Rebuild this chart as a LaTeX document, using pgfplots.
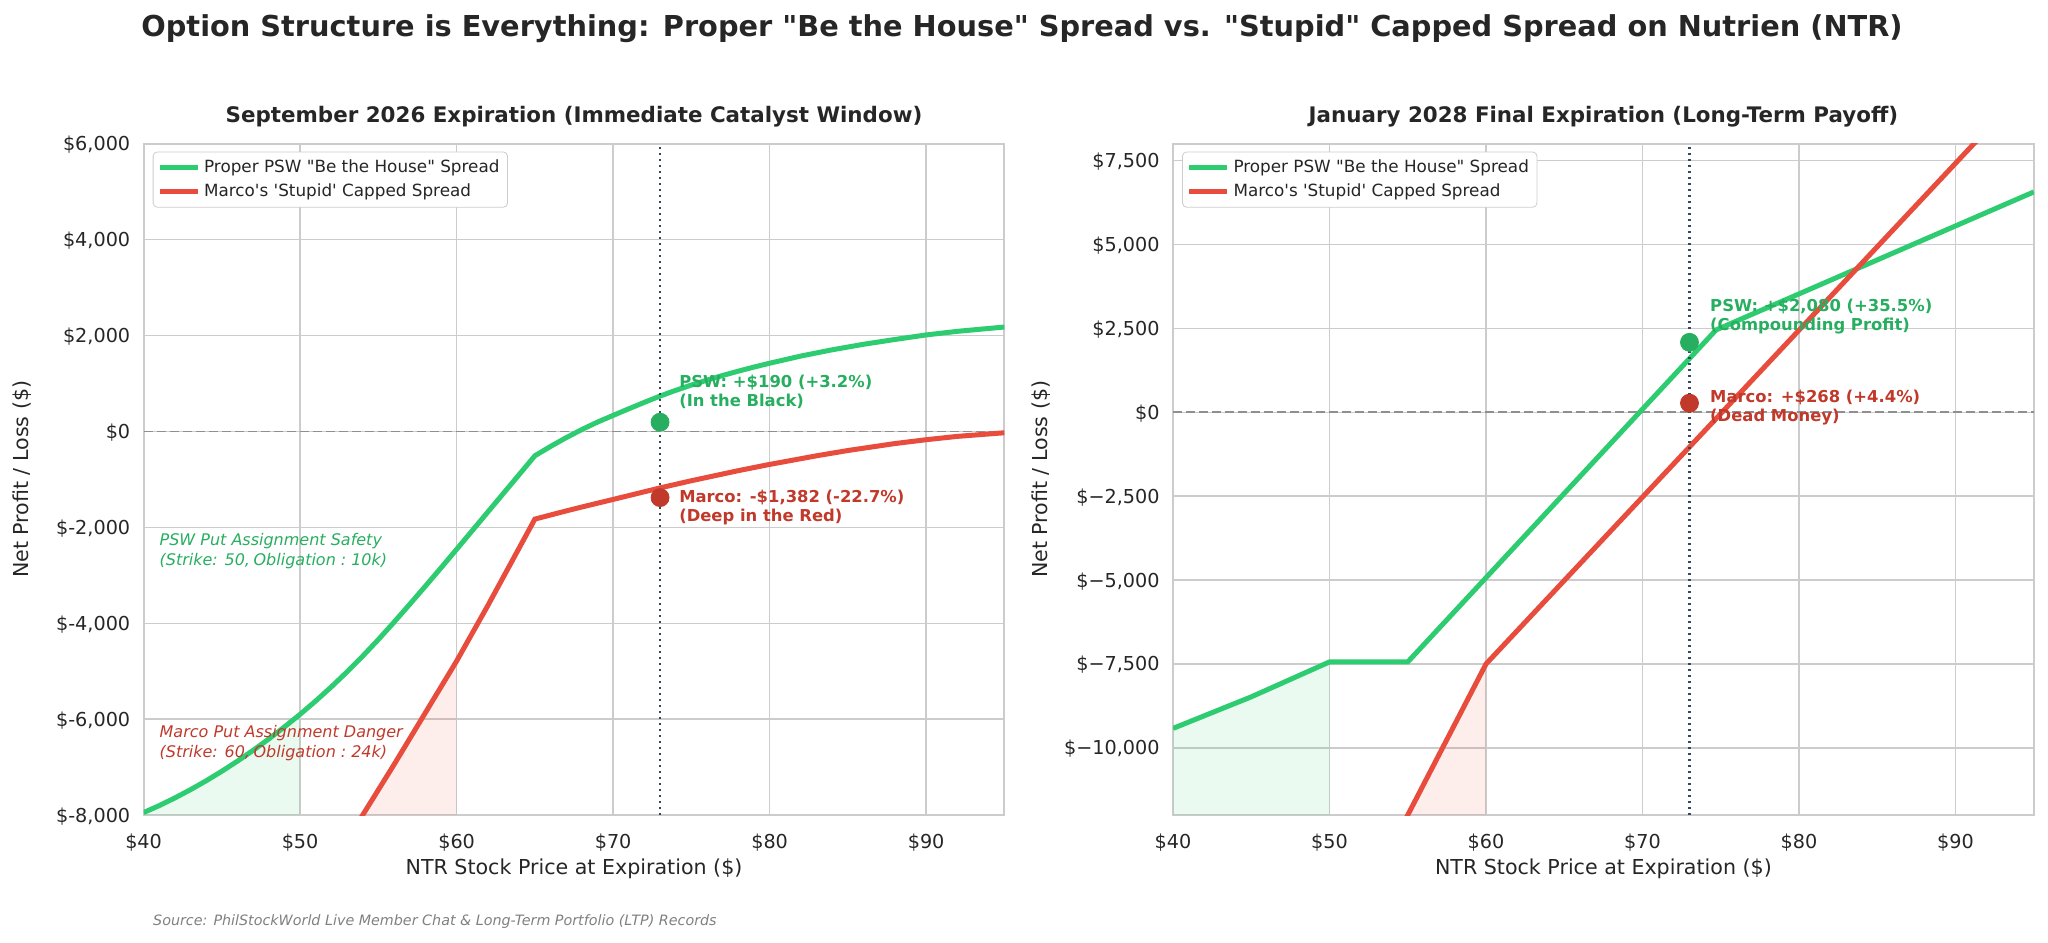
\documentclass[border=0pt]{standalone}
\usepackage{fontspec}
\setmainfont{DejaVu Sans}
\newfontfamily\djs{DejaVu Sans}
\usepackage{pgfplots}
\pgfplotsset{compat=1.18}
\definecolor{pswgreen}{HTML}{2ECC71}
\definecolor{marcored}{HTML}{E74C3C}
\definecolor{pswdark}{HTML}{27AE60}
\definecolor{marcodark}{HTML}{C0392B}
\definecolor{gridc}{HTML}{CCCCCC}
\definecolor{txt}{HTML}{262626}
\definecolor{vline}{HTML}{34495E}
\definecolor{zline}{HTML}{8F8F8F}
\definecolor{srcgray}{HTML}{808080}
\pgfplotsset{myax/.style={
 scale only axis, width=430.4pt, height=335.7pt,
 anchor=south west,
 xmin=40, xmax=95, enlargelimits=false,
 scaled y ticks=false, scaled x ticks=false,
 xtick={40,50,60,70,80,90}, xticklabels={\$40,\$50,\$60,\$70,\$80,\$90},
 grid=major, major grid style={gridc, line width=0.65pt},
 axis line style={gridc, line width=1pt},
 major tick length=0pt,
 tick label style={font=\fontsize{9.6pt}{11.5pt}\selectfont, text=txt, inner sep=0pt},
 xticklabel style={anchor=base, yshift=-16.5pt},
 yticklabel style={anchor=base east, xshift=-6.5pt, yshift=-3.5pt},
 label style={font=\fontsize{10.3pt}{12pt}\selectfont, text=txt},
 xlabel={NTR Stock Price at Expiration (\$)},
 ylabel={Net Profit / Loss (\$)},
 xlabel style={at={(axis description cs:0.5,0)}, anchor=base, yshift=-29.8pt},
 title style={at={(axis description cs:0.5,1)}, anchor=base, yshift=4.6pt, font=\bfseries\fontsize{10.7pt}{12.8pt}\selectfont, text=txt},
 legend style={at={(0.0106,0.988)}, anchor=north west, draw=gridc, rounded corners=2pt, fill=white, font=\fontsize{8.4pt}{10pt}\selectfont, text=txt, row sep=0pt, inner xsep=2pt, inner ysep=1.5pt, nodes={inner ysep=2.2pt}},
 legend cell align=left,
 legend image code/.code={\draw[#1] (0pt,0pt) -- (19pt,0pt);},
}}
\begin{document}
\djs
\begin{tikzpicture}
\path[use as bounding box] (0,0) rectangle (1024pt,471pt);
% ---------------- Left axis ----------------
\begin{axis}[myax, at={(71.8pt,63.5pt)},
 ymin=-8000, ymax=6000,
 ytick={-8000,-6000,-4000,-2000,0,2000,4000,6000},
 yticklabels={{\$-8,000},{\$-6,000},{\$-4,000},{\$-2,000},{\$0},{\$2,000},{\$4,000},{\$6,000}},
 ylabel style={at={(axis description cs:-0.1412,0.5)}, anchor=center},
 title={September 2026 Expiration (Immediate Catalyst Window)}]
\addplot[forget plot, fill=pswgreen, fill opacity=0.1, draw=none] coordinates {
 (40,-8000) (40,-7950) (41,-7803.5) (42,-7644) (43,-7471.5) (44,-7286) (45,-7087.5)
 (46,-6876) (47,-6651.5) (48,-6414) (49,-6163.5) (50,-5900) (50,-8000)};
\addplot[forget plot, fill=marcored, fill opacity=0.1, draw=none] coordinates {
 (54,-8000) (56,-6950) (58,-5870) (60,-4790) (60,-8000)};
\addplot[forget plot, zline, line width=0.75pt, dash pattern=on 4.5pt off 2pt] coordinates {(40,0) (95,0)};
\addplot[pswgreen, line width=2.5pt] coordinates {
 (40,-7950) (41,-7803.5) (42,-7644) (43,-7471.5) (44,-7286) (45,-7087.5)
 (46,-6876) (47,-6651.5) (48,-6414) (49,-6163.5) (50,-5900)
 (51,-5621.7) (52,-5326.7) (53,-5015) (54,-4686.7) (55,-4341.7) (56,-3980)
 (57,-3607.5) (58,-3230) (59,-2847.5) (60,-2460)
 (61,-2070) (62,-1680) (63,-1290) (64,-900) (65,-510)
 (66,-315) (67,-132) (68,37) (69,192) (70,332) (71,470) (72,605) (73,735) (74,855)
 (75,965) (76,1068) (77,1165) (78,1255) (79,1340) (80,1420) (82,1570) (84,1700)
 (86,1815) (88,1915) (90,2010) (92,2085) (95,2175)};
\addlegendentry{Proper PSW "Be the House" Spread}
\addplot[marcored, line width=2.5pt] coordinates {
 (52,-9040) (54,-8000) (56,-6950) (58,-5870) (60,-4790) (62,-3630) (65,-1830)
 (66,-1745) (67,-1660) (68,-1578) (70,-1420) (73,-1180) (75,-1030) (78,-820)
 (80,-690) (83,-510) (85,-400) (88,-255) (90,-175) (92,-105) (95,-30)};
\addlegendentry{Marco's 'Stupid' Capped Spread}
\addplot[forget plot, vline, line width=1.1pt, dash pattern=on 1.1pt off 1.9pt] coordinates {(73,-8000) (73,6000)};
\addplot[forget plot, only marks, mark=*, mark size=4.5pt, mark options={draw=pswdark, fill=pswdark}] coordinates {(73,190)};
\addplot[forget plot, only marks, mark=*, mark size=4.5pt, mark options={draw=marcodark, fill=marcodark}] coordinates {(73,-1382)};
\node[anchor=west, align=left, inner sep=0pt, font=\bfseries\fontsize{8.2pt}{9.6pt}\selectfont, text=pswdark] at (axis cs:74.2,817) {PSW: +\$190 (+3.2\%)\\(In the Black)};
\node[anchor=west, align=left, inner sep=0pt, font=\bfseries\fontsize{8.2pt}{9.6pt}\selectfont, text=marcodark] at (axis cs:74.2,-1580) {Marco: -\$1,382 (-22.7\%)\\(Deep in the Red)};
\node[anchor=west, align=left, inner sep=0pt, font=\itshape\fontsize{8pt}{9.8pt}\selectfont, text=pswdark] at (axis cs:41.0,-2492) {PSW Put Assignment Safety\\(Strike: 50,\hspace{1.8pt}Obligation\hspace{2.5pt}:\hspace{2.5pt}10k)};
\node[anchor=west, align=left, inner sep=0pt, font=\itshape\fontsize{8pt}{9.8pt}\selectfont, text=marcodark] at (axis cs:41.0,-6497) {Marco Put Assignment Danger\\(Strike: 60,\hspace{1.8pt}Obligation\hspace{2.5pt}:\hspace{2.5pt}24k)};
\end{axis}
% ---------------- Right axis ----------------
\begin{axis}[myax, at={(586.5pt,63.5pt)},
 ymin=-12000, ymax=8000,
 ytick={-10000,-7500,-5000,-2500,0,2500,5000,7500},
 yticklabels={{\$−10,000},{\$−7,500},{\$−5,000},{\$−2,500},{\$0},{\$2,500},{\$5,000},{\$7,500}},
 ylabel style={at={(axis description cs:-0.153,0.5)}, anchor=center},
 title={January 2028 Final Expiration (Long-Term Payoff)}]
\addplot[forget plot, fill=pswgreen, fill opacity=0.1, draw=none] coordinates {
 (40,-12000) (40,-9420) (45,-8480) (50,-7440) (50,-12000)};
\addplot[forget plot, fill=marcored, fill opacity=0.1, draw=none] coordinates {
 (55,-12000) (60,-7500) (60,-12000)};
\addplot[forget plot, zline, line width=0.75pt, dash pattern=on 4.5pt off 2pt] coordinates {(40,0) (95,0)};
\addplot[pswgreen, line width=2.5pt] coordinates {
 (40,-9420) (45,-8480) (50,-7440) (55,-7440) (74.7,2450) (95,6560)};
\addlegendentry{Proper PSW "Be the House" Spread}
\addplot[marcored, line width=2.5pt] coordinates {
 (54,-12900) (60,-7500) (95,9900)};
\addlegendentry{Marco's 'Stupid' Capped Spread}
\addplot[forget plot, vline, line width=1.1pt, dash pattern=on 1.1pt off 1.9pt] coordinates {(73,-12000) (73,8000)};
\addplot[forget plot, only marks, mark=*, mark size=4.5pt, mark options={draw=pswdark, fill=pswdark}] coordinates {(73,2080)};
\addplot[forget plot, only marks, mark=*, mark size=4.5pt, mark options={draw=marcodark, fill=marcodark}] coordinates {(73,268)};
\node[anchor=west, align=left, inner sep=0pt, font=\bfseries\fontsize{8.2pt}{9.6pt}\selectfont, text=pswdark] at (axis cs:74.3,2855) {PSW: +\$2,080 (+35.5\%)\\(Compounding Profit)};
\node[anchor=west, align=left, inner sep=0pt, font=\bfseries\fontsize{8.2pt}{9.6pt}\selectfont, text=marcodark] at (axis cs:74.3,133) {Marco: +\$268 (+4.4\%)\\(Dead Money)};
\end{axis}
% ---------------- Titles ----------------
\node[anchor=base, inner sep=0pt, font=\bfseries\fontsize{14.4pt}{17pt}\selectfont, text=txt] at (511pt,452.8pt) {Option Structure is Everything: Proper "Be the House" Spread vs. "Stupid" Capped Spread on Nutrien (NTR)};
\node[anchor=base west, inner sep=0pt, font=\itshape\fontsize{7.15pt}{8.5pt}\selectfont, text=srcgray] at (76.4pt,8.2pt) {Source: PhilStockWorld Live Member Chat \& Long-Term Portfolio (LTP) Records};
\end{tikzpicture}
\end{document}
